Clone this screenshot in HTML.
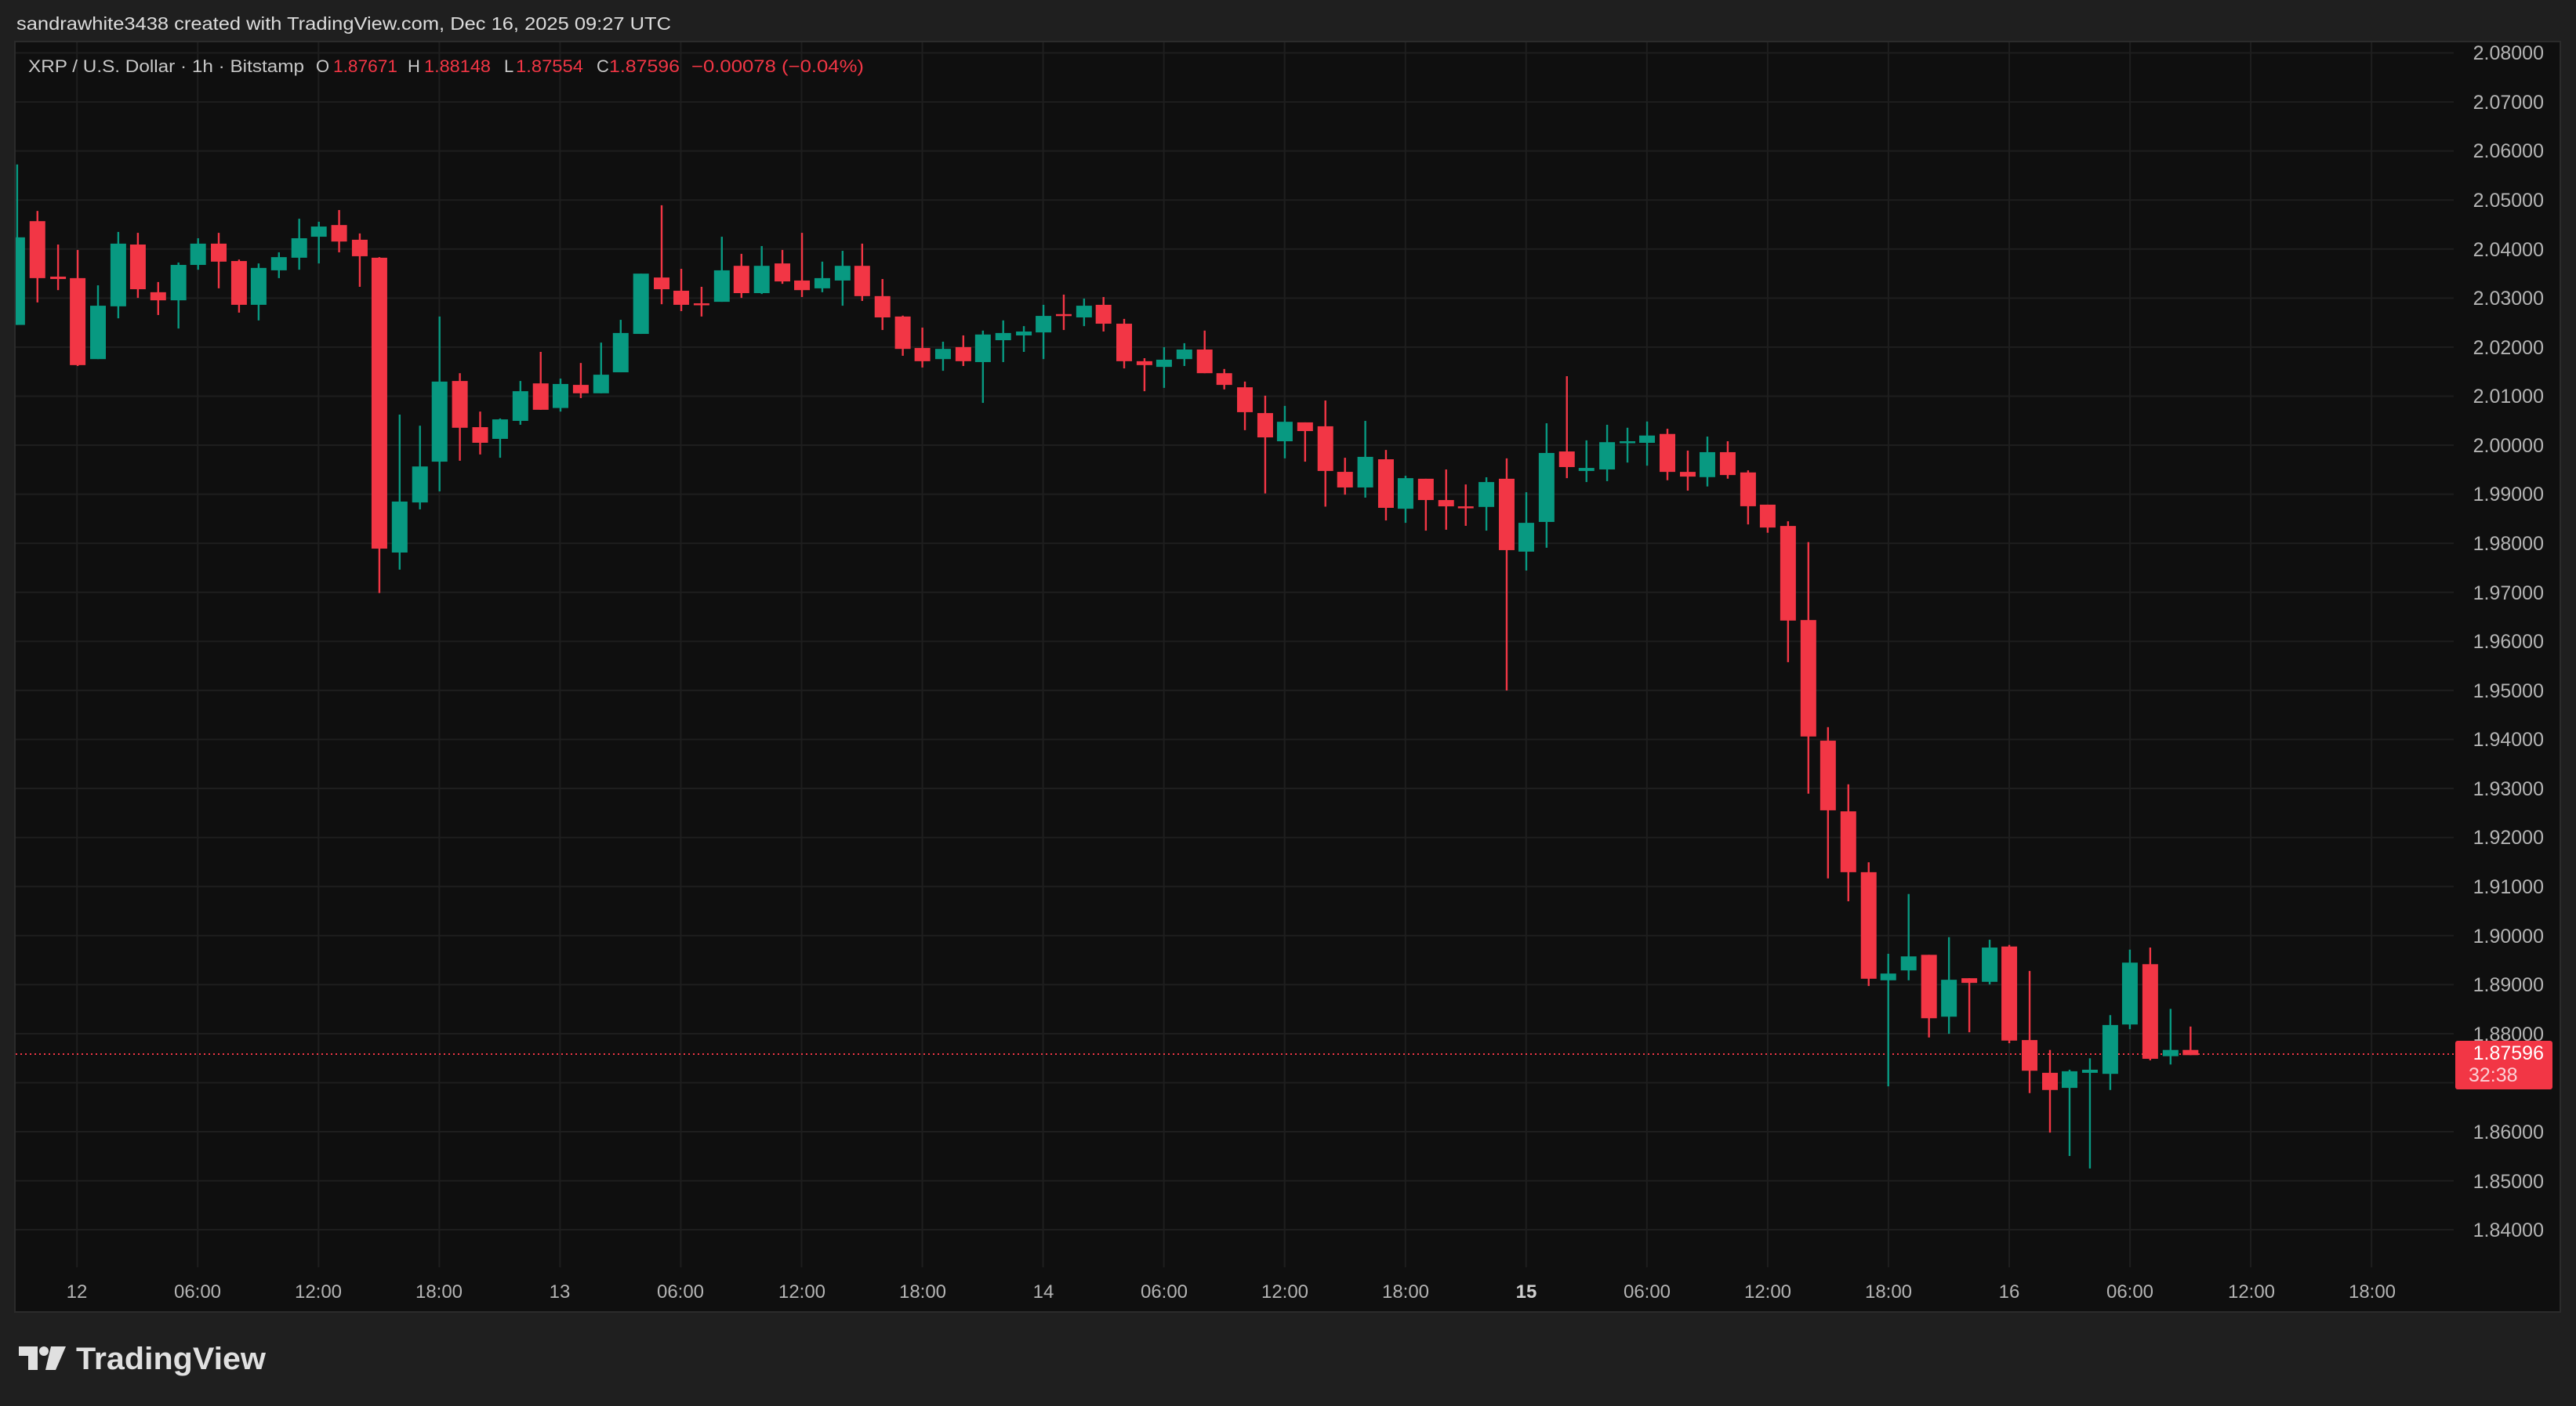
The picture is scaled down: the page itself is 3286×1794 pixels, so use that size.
<!DOCTYPE html>
<html><head><meta charset="utf-8"><style>
html,body{margin:0;padding:0;background:#1f1f1f;}
svg{display:block;font-family:"Liberation Sans",sans-serif;}
</style></head><body>
<svg id="s" width="3286" height="1794" viewBox="0 0 3286 1794" xmlns="http://www.w3.org/2000/svg">
<rect x="0" y="0" width="3286" height="1794" fill="#1f1f1f"/>
<text x="21" y="38" font-size="23" fill="#dcdcdc" textLength="835" lengthAdjust="spacingAndGlyphs">sandrawhite3438 created with TradingView.com, Dec 16, 2025 09:27 UTC</text>
<rect x="19" y="53" width="3247" height="1621" fill="#0f0f0f" stroke="#2b2b2b" stroke-width="2"/>
<defs><clipPath id="cp"><rect x="20" y="54" width="3110" height="1563"/></clipPath></defs>
<g id="grid" stroke="#1e1e1e" stroke-width="2"></g>
<line x1="20" y1="1345" x2="3130" y2="1345" stroke="#f23645" stroke-width="2" stroke-dasharray="2,4"/>
<g id="candles" clip-path="url(#cp)"></g>
<g font-size="22" fill="#c8c8c8">
<text x="36" y="92" textLength="352" lengthAdjust="spacingAndGlyphs">XRP / U.S. Dollar · 1h · Bitstamp</text>
<text x="403" y="92">O</text><text x="425" y="92" fill="#f23645" textLength="82" lengthAdjust="spacingAndGlyphs">1.87671</text>
<text x="520" y="92">H</text><text x="541" y="92" fill="#f23645" textLength="85" lengthAdjust="spacingAndGlyphs">1.88148</text>
<text x="643" y="92">L</text><text x="658" y="92" fill="#f23645" textLength="86" lengthAdjust="spacingAndGlyphs">1.87554</text>
<text x="761" y="92">C</text><text x="777" y="92" fill="#f23645" textLength="90" lengthAdjust="spacingAndGlyphs">1.87596</text>
<text x="882" y="92" fill="#f23645" textLength="220" lengthAdjust="spacingAndGlyphs">−0.00078 (−0.04%)</text>
</g>
<g font-size="25" fill="#b4b4b4" text-anchor="end">
<text x="3245" y="76">2.08000</text><text x="3245" y="139">2.07000</text><text x="3245" y="201">2.06000</text><text x="3245" y="264">2.05000</text><text x="3245" y="327">2.04000</text><text x="3245" y="389">2.03000</text><text x="3245" y="452">2.02000</text><text x="3245" y="514">2.01000</text><text x="3245" y="577">2.00000</text><text x="3245" y="639">1.99000</text><text x="3245" y="702">1.98000</text><text x="3245" y="765">1.97000</text><text x="3245" y="827">1.96000</text><text x="3245" y="890">1.95000</text><text x="3245" y="952">1.94000</text><text x="3245" y="1015">1.93000</text><text x="3245" y="1077">1.92000</text><text x="3245" y="1140">1.91000</text><text x="3245" y="1203">1.90000</text><text x="3245" y="1265">1.89000</text><text x="3245" y="1328">1.88000</text><text x="3245" y="1453">1.86000</text><text x="3245" y="1516">1.85000</text><text x="3245" y="1578">1.84000</text>
</g>
<rect x="3132" y="1328" width="124" height="62" rx="3" fill="#f23645"/>
<text x="3245" y="1352" font-size="25" fill="#ffffff" text-anchor="end">1.87596</text>
<text x="3149" y="1380" font-size="25" fill="#fbd0d5">32:38</text>
<g font-size="24" fill="#b4b4b4" text-anchor="middle">
<text x="98" y="1656">12</text><text x="252" y="1656">06:00</text><text x="406" y="1656">12:00</text><text x="560" y="1656">18:00</text><text x="714" y="1656">13</text><text x="868" y="1656">06:00</text><text x="1023" y="1656">12:00</text><text x="1177" y="1656">18:00</text><text x="1331" y="1656">14</text><text x="1485" y="1656">06:00</text><text x="1639" y="1656">12:00</text><text x="1793" y="1656">18:00</text><text x="1947" y="1656" font-weight="bold" fill="#cfcfcf">15</text><text x="2101" y="1656">06:00</text><text x="2255" y="1656">12:00</text><text x="2409" y="1656">18:00</text><text x="2563" y="1656">16</text><text x="2717" y="1656">06:00</text><text x="2872" y="1656">12:00</text><text x="3026" y="1656">18:00</text>
</g>
<g fill="#e0e0e0">
<path d="M24 1718 H48 V1748 H36 V1730 H24 Z"/>
<circle cx="56" cy="1724" r="6"/>
<path d="M65 1718 H84 L71 1748 H58 Z"/>
</g>
<text x="97" y="1747" font-size="40" font-weight="bold" fill="#e0e0e0" textLength="242" lengthAdjust="spacingAndGlyphs">TradingView</text>
</svg>
<script>
(function(){
var NS="http://www.w3.org/2000/svg";
var g=document.getElementById('grid');
function ln(x1,y1,x2,y2){var l=document.createElementNS(NS,'line');l.setAttribute('x1',x1);l.setAttribute('y1',y1);l.setAttribute('x2',x2);l.setAttribute('y2',y2);g.appendChild(l);}
for(var k=0;k<25;k++){var y=67.5+k*62.57;ln(20,y,3130,y);}
for(var k=0;k<20;k++){var x=98.2+k*154.05;ln(x,54,x,1617);}
var C={1:[0,180,2.24,2.6133],2:[690,180,2.24,2.6133],3:[1380,330,2.24,2.6133],5:[2060,500,2.119,1.5077]};
var d=[
[1,49,321,613,78,613,'g'],[1,107,267,457,233,538,'r'],[1,166,452,460,345,497,'r'],[1,222,457,747,363,750,'r'],[1,280,549,727,481,727,'g'],[1,338,342,551,303,591,'g'],[1,394,345,494,306,523,'r'],[1,452,504,531,470,580,'r'],[1,510,413,531,405,625,'g'],[1,566,342,413,324,429,'g'],[1,625,342,402,306,491,'r'],[1,683,400,546,395,572,'r'],[1,739,423,546,408,598,'g'],[1,797,387,431,371,457,'g'],[1,855,324,389,259,429,'g'],[1,911,285,319,269,408,'g'],[1,969,280,335,230,371,'r'],[1,1028,329,384,308,486,'r'],[1,1084,389,1359,387,1507,'r'],[1,1142,1202,1372,912,1429,'g'],[1,1200,1085,1205,949,1228,'g'],[1,1256,802,1069,585,1168,'g'],[1,1314,800,956,774,1066,'r'],[1,1372,954,1006,902,1045,'r'],[1,1429,928,993,925,1056,'g'],[1,1487,834,933,800,946,'g'],[1,1545,808,896,703,896,'r'],
[2,56,810,890,792,902,'g'],[2,114,813,841,740,857,'r'],[2,172,779,841,672,841,'g'],[2,228,640,771,596,771,'g'],[2,286,442,643,442,643,'g'],[2,345,455,494,214,544,'r'],[2,401,499,546,426,567,'r'],[2,459,541,546,486,585,'r'],[2,517,431,536,319,536,'g'],[2,573,416,507,376,523,'r'],[2,631,416,507,350,510,'g'],[2,690,408,468,363,476,'r'],[2,746,465,497,306,520,'r'],[2,804,457,491,402,504,'g'],[2,862,416,465,366,549,'g'],[2,918,416,517,342,533,'r'],[2,976,517,588,460,630,'r'],[2,1034,585,693,582,716,'r'],[2,1090,690,734,622,755,'r'],[2,1149,693,727,669,766,'g'],[2,1207,687,734,648,750,'r'],[2,1263,645,737,632,873,'g'],[2,1321,640,664,598,737,'g'],[2,1380,635,648,617,703,'g'],[2,1436,583,638,546,727,'g'],[2,1494,577,583,512,630,'r'],[2,1552,549,588,525,617,'g'],
[3,62,154,217,128,243,'r'],[3,121,217,342,201,366,'r'],[3,179,342,355,332,442,'r'],[3,235,337,361,295,431,'g'],[3,293,303,335,282,358,'g'],[3,351,303,382,240,382,'r'],[3,407,382,421,368,436,'r'],[3,466,429,512,410,572,'r'],[3,524,515,596,457,783,'r'],[3,580,544,609,491,666,'g'],[3,638,546,575,546,677,'r'],[3,696,559,708,473,827,'r'],[3,752,711,763,664,787,'r'],[3,810,661,763,541,797,'g'],[3,869,669,831,638,873,'r'],[3,925,732,834,724,881,'g'],[3,983,734,805,734,907,'r'],[3,1041,805,826,703,904,'r'],[3,1097,826,831,753,891,'r'],[3,1156,745,828,729,907,'g'],[3,1214,734,972,666,1440,'r'],[3,1270,881,977,779,1040,'g'],[3,1328,648,878,549,964,'g'],[3,1386,643,695,392,732,'r'],[3,1442,698,708,606,745,'g'],[3,1501,612,703,554,742,'g'],
[5,34,95,97,69,136,'g'],[5,87,84,98,57,142,'g'],[5,142,81,154,71,170,'r'],[5,197,154,163,113,190,'r'],[5,250,116,164,86,182,'g'],[5,305,116,160,95,167,'r'],[5,360,155,220,151,255,'r'],[5,413,217,261,217,271,'r'],[5,468,258,440,249,520,'r'],[5,523,439,663,289,773,'r'],[5,576,671,805,645,936,'r'],[5,631,807,924,755,980,'r'],[5,686,924,1129,905,1143,'r'],[5,739,1119,1132,1081,1336,'g'],[5,794,1086,1113,966,1132,'g'],[5,849,1083,1205,1083,1242,'r'],[5,903,1131,1202,1049,1235,'g'],[5,958,1128,1137,1128,1232,'r'],[5,1013,1069,1135,1054,1140,'g'],[5,1066,1067,1248,1064,1253,'r'],[5,1121,1247,1306,1114,1349,'r'],[5,1176,1310,1343,1266,1425,'r'],[5,1229,1307,1339,1304,1470,'g'],[5,1284,1304,1310,1282,1494,'g'],[5,1339,1218,1312,1199,1343,'g'],[5,1392,1098,1217,1073,1226,'g'],[5,1447,1101,1283,1069,1286,'r'],[5,1502,1266,1278,1187,1294,'g'],[5,1556,1266,1276,1221,1276,'r']
];
var cg=document.getElementById('candles');
function rc(x,y,w,h,f){var r=document.createElementNS(NS,'rect');r.setAttribute('x',x);r.setAttribute('y',y);r.setAttribute('width',w);r.setAttribute('height',h);r.setAttribute('fill',f);cg.appendChild(r);}
d.forEach(function(c){var p=C[c[0]];var x=p[0]+c[1]/p[2];var Y=function(v){return p[1]+v/p[3];};
var col=c[6]=='g'?'#089981':'#f23645';
var wt=Y(c[4]),wb=Y(c[5]);rc(x-1.2,wt,2.4,Math.max(wb-wt,1),col);
var bt=Y(c[2]),bb=Y(c[3]);rc(x-10,bt,20,Math.max(bb-bt,2.5),col);});
})();
</script>
</body></html>
